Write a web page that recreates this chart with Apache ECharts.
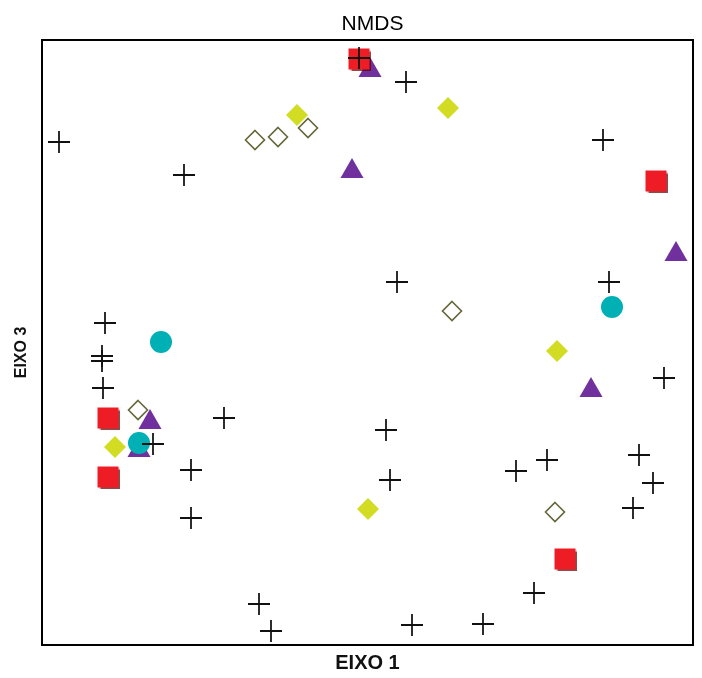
<!DOCTYPE html>
<html>
<head>
<meta charset="utf-8">
<script src="https://cdn.jsdelivr.net/npm/echarts@6/dist/echarts.min.js"></script>
<style>
  html, body { margin: 0; padding: 0; background: #fff; }
  #chart { width: 702px; height: 678px; }
</style>
</head>
<body>
<div id="chart"></div>
<script>
// NMDS ordination scores (axis 1 vs axis 3), one array per sample group.
// Coordinates are in plot units: EIXO 1 runs 0..651, EIXO 3 runs 0..605.
const crosses = [
  [17, 503], [142, 470], [317, 587], [364, 563], [561, 505], [355, 363],
  [567, 363], [63, 322], [60, 289], [60, 284], [61, 257], [182, 227],
  [111, 201], [149, 175], [149, 127], [344, 215], [348, 165], [474, 174],
  [505, 185], [597, 190], [611, 162], [591, 137], [622, 267], [492, 52],
  [217, 41], [229, 14], [370, 20], [441, 21]
];
const redSquares = [
  [317, 586], [614, 464], [66, 227], [66, 168], [523, 86]
];
const purpleTriangles = [
  [328, 578], [310, 477], [634, 394], [549, 258], [108, 226], [97, 198]
];
const cyanCircles = [
  [119, 303], [97, 202], [570, 338]
];
const yellowDiamonds = [
  [255, 530], [406, 537], [515, 294], [326, 136], [73, 198]
];
const openDiamonds = [
  [213, 505], [236, 508], [266, 517], [410, 334], [96, 235], [513, 133]
];

const chart = echarts.init(document.getElementById('chart'));

// Plus sign drawn as two thin filled bars so it stays crisp at any size.
const plusPath = 'path://M0,9.2H20V10.8H0Z M9.2,0H10.8V20H9.2Z';
const font = 'Liberation Sans, Arial, sans-serif';

chart.setOption({
  animation: false,
  backgroundColor: '#ffffff',
  title: {
    text: 'NMDS',
    left: 367.5,
    textAlign: 'center',
    top: 9,
    textStyle: { fontFamily: font, fontSize: 21, fontWeight: 'normal', color: '#000' }
  },
  grid: {
    left: 42, top: 40, width: 651, height: 605,
    outerBoundsMode: 'none',
    containLabel: false,
    show: true, borderColor: '#000', borderWidth: 2, backgroundColor: 'transparent'
  },
  xAxis: {
    type: 'value', min: 0, max: 651,
    name: 'EIXO 1', nameLocation: 'middle', nameGap: 8,
    nameTextStyle: { fontFamily: font, fontSize: 20, fontWeight: 'bold', color: '#111', verticalAlign: 'top' },
    axisLine: { show: false }, axisTick: { show: false }, axisLabel: { show: false }, splitLine: { show: false }
  },
  yAxis: {
    type: 'value', min: 0, max: 605,
    name: 'EIXO 3', nameLocation: 'middle', nameGap: 12, nameRotate: 90,
    nameTextStyle: { fontFamily: font, fontSize: 16, fontWeight: 'bold', color: '#111', padding: [0, 20, 0, 0] },
    axisLine: { show: false }, axisTick: { show: false }, axisLabel: { show: false }, splitLine: { show: false }
  },
  series: [
    {
      name: 'triangles', type: 'scatter', data: purpleTriangles,
      symbol: 'triangle', symbolSize: [23, 20],
      itemStyle: { color: '#70309e', opacity: 1 }
    },
    {
      name: 'circles', type: 'scatter', data: cyanCircles,
      symbol: 'circle', symbolSize: 22,
      itemStyle: { color: '#00b0b4', opacity: 1 }
    },
    {
      name: 'squares', type: 'scatter', data: redSquares,
      symbol: 'rect', symbolSize: 21,
      itemStyle: { color: '#ee1c24', opacity: 1, shadowColor: 'rgba(90,0,0,0.7)', shadowOffsetX: 1, shadowOffsetY: 1, shadowBlur: 1 }
    },
    {
      name: 'filled diamonds', type: 'scatter', data: yellowDiamonds,
      symbol: 'diamond', symbolSize: [22, 22],
      itemStyle: { color: '#d2dc22', opacity: 1 }
    },
    {
      name: 'open diamonds', type: 'scatter', data: openDiamonds,
      symbol: 'diamond', symbolSize: [19, 19],
      itemStyle: { color: '#ffffff', borderColor: '#66663a', borderWidth: 1.6, opacity: 1 }
    },
    {
      name: 'crosses', type: 'scatter', data: crosses,
      symbol: plusPath, symbolSize: 22,
      itemStyle: { color: '#111111', opacity: 1 }
    }
  ]
});
</script>
</body>
</html>
